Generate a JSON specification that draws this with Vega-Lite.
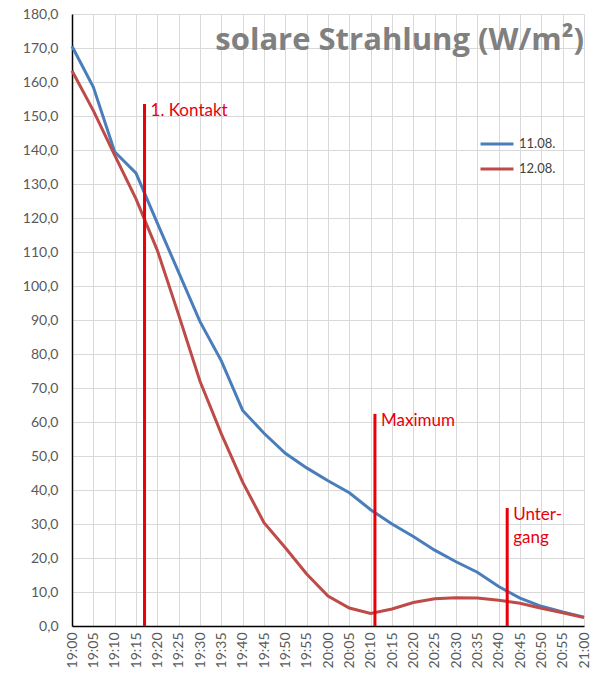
{
  "$schema": "https://vega.github.io/schema/vega-lite/v6.json",
  "width": 512,
  "height": 612,
  "autosize": {"type": "none"},
  "padding": {"left": 72, "top": 14, "right": 15, "bottom": 51},
  "background": "white",
  "title": {
    "text": "solare Strahlung (W/m²)",
    "anchor": "end",
    "orient": "top",
    "frame": "group",
    "offset": -50,
    "font": "Open Sans",
    "fontSize": 31,
    "fontWeight": "bold",
    "color": "#808080"
  },
  "encoding": {
    "x": {
      "field": "t",
      "type": "temporal",
      "scale": {
        "type": "utc",
        "domain": [
          {"year": 1900, "month": 1, "date": 1, "hours": 19, "minutes": 0, "utc": true},
          {"year": 1900, "month": 1, "date": 1, "hours": 21, "minutes": 0, "utc": true}
        ],
        "nice": false
      },
      "axis": {
        "title": null,
        "labelExpr": "utcFormat(datum.value, '%H:%M')",
        "tickCount": 24,
        "labelAngle": 270,
        "labelAlign": "right",
        "labelBaseline": "middle",
        "labelPadding": 6,
        "labelFont": "Lato",
        "labelFontSize": 14,
        "labelColor": "#595959",
        "labelOverlap": false,
        "labelFlush": false,
        "ticks": false,
        "grid": true,
        "gridColor": "#d9d9d9",
        "domainColor": "#000000",
        "domainWidth": 1.5
      }
    },
    "y": {
      "field": "v",
      "type": "quantitative",
      "scale": {"domain": [0, 180], "nice": false},
      "axis": {
        "title": null,
        "tickCount": 18,
        "labelExpr": "replace(format(datum.value, '.1f'), '.', ',')",
        "labelFont": "Lato",
        "labelFontSize": 14,
        "labelColor": "#595959",
        "labelPadding": 14,
        "ticks": false,
        "grid": true,
        "gridColor": "#d9d9d9",
        "domainColor": "#000000",
        "domainWidth": 1.5
      }
    }
  },
  "layer": [
    {
      "data": {
        "values": [
          {"t": "19:00", "day": "11.08.", "v": 170.5},
          {"t": "19:05", "day": "11.08.", "v": 158.5},
          {"t": "19:10", "day": "11.08.", "v": 139.5},
          {"t": "19:15", "day": "11.08.", "v": 133.2},
          {"t": "19:20", "day": "11.08.", "v": 118.5},
          {"t": "19:25", "day": "11.08.", "v": 104.0},
          {"t": "19:30", "day": "11.08.", "v": 89.5},
          {"t": "19:35", "day": "11.08.", "v": 78.0},
          {"t": "19:40", "day": "11.08.", "v": 63.4},
          {"t": "19:45", "day": "11.08.", "v": 56.7},
          {"t": "19:50", "day": "11.08.", "v": 50.8},
          {"t": "19:55", "day": "11.08.", "v": 46.5},
          {"t": "20:00", "day": "11.08.", "v": 42.7},
          {"t": "20:05", "day": "11.08.", "v": 39.2},
          {"t": "20:10", "day": "11.08.", "v": 34.2},
          {"t": "20:15", "day": "11.08.", "v": 30.0},
          {"t": "20:20", "day": "11.08.", "v": 26.3},
          {"t": "20:25", "day": "11.08.", "v": 22.3},
          {"t": "20:30", "day": "11.08.", "v": 18.9},
          {"t": "20:35", "day": "11.08.", "v": 15.8},
          {"t": "20:40", "day": "11.08.", "v": 11.6},
          {"t": "20:45", "day": "11.08.", "v": 8.2},
          {"t": "20:50", "day": "11.08.", "v": 5.8},
          {"t": "20:55", "day": "11.08.", "v": 4.1},
          {"t": "21:00", "day": "11.08.", "v": 2.6},
          {"t": "19:00", "day": "12.08.", "v": 163.3},
          {"t": "19:05", "day": "12.08.", "v": 151.6},
          {"t": "19:10", "day": "12.08.", "v": 138.5},
          {"t": "19:15", "day": "12.08.", "v": 125.6},
          {"t": "19:20", "day": "12.08.", "v": 110.5},
          {"t": "19:25", "day": "12.08.", "v": 91.5},
          {"t": "19:30", "day": "12.08.", "v": 72.0},
          {"t": "19:35", "day": "12.08.", "v": 56.5},
          {"t": "19:40", "day": "12.08.", "v": 42.3},
          {"t": "19:45", "day": "12.08.", "v": 30.4},
          {"t": "19:50", "day": "12.08.", "v": 23.0},
          {"t": "19:55", "day": "12.08.", "v": 15.3},
          {"t": "20:00", "day": "12.08.", "v": 8.8},
          {"t": "20:05", "day": "12.08.", "v": 5.3},
          {"t": "20:10", "day": "12.08.", "v": 3.7},
          {"t": "20:15", "day": "12.08.", "v": 5.0},
          {"t": "20:20", "day": "12.08.", "v": 6.9},
          {"t": "20:25", "day": "12.08.", "v": 8.0},
          {"t": "20:30", "day": "12.08.", "v": 8.3},
          {"t": "20:35", "day": "12.08.", "v": 8.2},
          {"t": "20:40", "day": "12.08.", "v": 7.6},
          {"t": "20:45", "day": "12.08.", "v": 6.7},
          {"t": "20:50", "day": "12.08.", "v": 5.2},
          {"t": "20:55", "day": "12.08.", "v": 3.9},
          {"t": "21:00", "day": "12.08.", "v": 2.5}
        ],
        "format": {"parse": {"t": "utc:'%H:%M'"}}
      },
      "mark": {"type": "line", "strokeWidth": 3},
      "encoding": {
        "color": {
          "field": "day",
          "type": "nominal",
          "scale": {"domain": ["11.08.", "12.08."], "range": ["#4a7ebb", "#be4b48"]},
          "legend": {
            "title": null,
            "orient": "none",
            "legendX": 407,
            "legendY": 112,
            "symbolType": "stroke",
            "symbolStrokeWidth": 3,
            "symbolSize": 1089,
            "rowPadding": -4,
            "labelOffset": 4,
            "labelFont": "Lato",
            "labelFontSize": 13,
            "labelColor": "#404040"
          }
        }
      }
    },
    {
      "data": {
        "values": [
          {"t": "19:17", "v": 153.5, "bottom": 0, "label": "1. Kontakt"},
          {"t": "20:11", "v": 62.4, "bottom": 0, "label": "Maximum"},
          {"t": "20:42", "v": 34.7, "bottom": 0, "label": "Unter-\ngang"}
        ],
        "format": {"parse": {"t": "utc:'%H:%M'"}}
      },
      "layer": [
        {
          "mark": {"type": "rule", "color": "#e8000b", "strokeWidth": 3},
          "encoding": {"y2": {"field": "bottom"}}
        },
        {
          "mark": {
            "type": "text",
            "align": "left",
            "baseline": "top",
            "dx": 6,
            "dy": -1,
            "font": "Lato",
            "fontSize": 17,
            "lineBreak": "\n",
            "lineHeight": 23,
            "color": "#e8000b"
          },
          "encoding": {"text": {"field": "label"}}
        }
      ]
    }
  ],
  "config": {
    "view": {"stroke": null}
  }
}
